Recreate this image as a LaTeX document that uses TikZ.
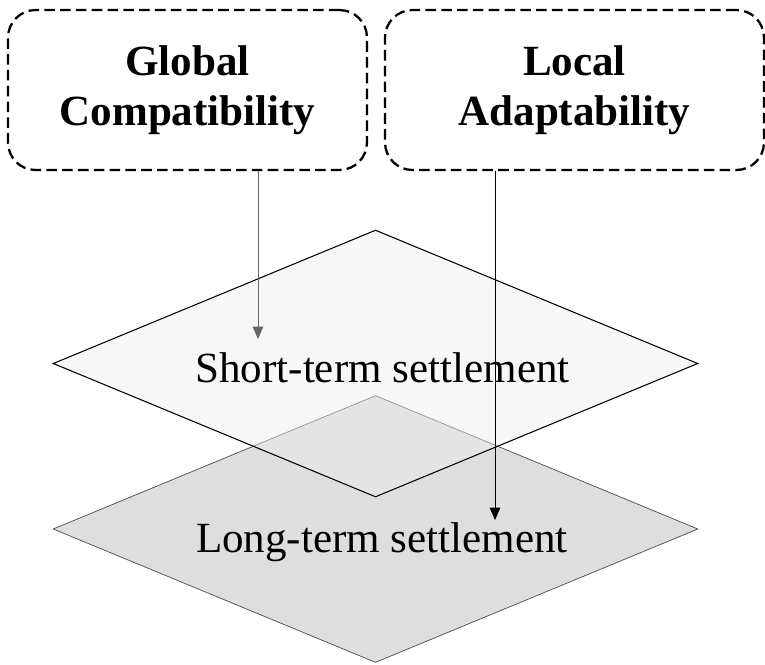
\documentclass[tikz,border=0pt]{standalone}
\usepackage{fontspec}
\setmainfont{Liberation Serif}
\usetikzlibrary{shapes.geometric,arrows.meta}

\begin{document}
\begin{tikzpicture}[x=0.02cm,y=-0.02cm,
    goalbox/.style={draw,dashed,line width=1.3pt,dash pattern=on 6pt off 3pt,
      rounded corners=0.55cm,minimum height=3.2cm,align=center,
      font=\fontsize{24.5}{28.5}\selectfont\bfseries},
    layer/.style={diamond,draw,minimum width=12.9cm,minimum height=5.34cm,inner sep=0pt},
    layertext/.style={anchor=base,inner sep=0pt,font=\fontsize{24.5}{28.5}\selectfont},
    link/.style={-{Triangle[length=7pt,width=6pt]},line width=0.5pt}]
  \useasboundingbox (0,0) rectangle (765,664);

  % the two settlement layers, upper one see-through
  \node[layer,fill=black!13,draw=black!70] (long) at (375.5,529) {};
  \node[layer,fill=black!7,fill opacity=0.44,draw=black,line width=0.6pt] (short) at (375.5,363.5) {};
  \node[layertext] (longlbl) at (382,552) {Long-term settlement};
  \node[layertext] (shortlbl) at (382.5,382) {Short-term settlement};

  % goals on top
  \node[goalbox,minimum width=7.18cm] (global) at (187.5,90) {Global\\Compatibility};
  \node[goalbox,minimum width=7.58cm] (local) at (574.5,90) {Local\\Adaptability};

  \coordinate (gtip) at (258,339);
  \coordinate (ltip) at (495,520);
  \draw[link,black!60] (global.south -| gtip) -- (gtip);
  \draw[link] (local.south -| ltip) -- (ltip);
\end{tikzpicture}
\end{document}
